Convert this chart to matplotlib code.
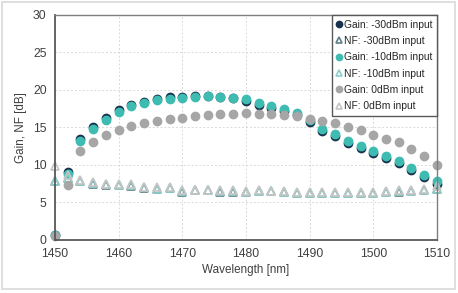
import numpy as np
import matplotlib
matplotlib.use("Agg")
import matplotlib.pyplot as plt
from matplotlib.patches import Rectangle

plt.rcParams["font.family"] = ["Liberation Sans", "DejaVu Sans"]

# longueurs d'onde (pas de 2 nm)
wavelength = list(range(1450, 1511, 2))

gain_m30 = [0.7, 9.0, 13.5, 15.1, 16.3, 17.3, 18.0, 18.4, 18.8, 19.0, 19.1,
            19.2, 19.2, 19.1, 18.9, 18.5, 18.0, 17.6, 17.2, 16.6, 15.7,
            14.5, 13.8, 12.9, 12.2, 11.6, 10.9, 10.2, 9.3, 8.4, 7.5]
gain_m10 = [0.7, 8.8, 13.2, 14.8, 16.0, 17.0, 17.8, 18.2, 18.6, 18.75, 18.9,
            19.1, 19.2, 19.1, 18.9, 18.75, 18.3, 17.9, 17.4, 16.9, 16.0,
            14.8, 14.1, 13.2, 12.5, 11.9, 11.2, 10.5, 9.6, 8.7, 7.8]
gain_0 = [0.5, 7.3, 11.8, 13.1, 14.0, 14.7, 15.2, 15.55, 15.9, 16.1, 16.3,
          16.5, 16.7, 16.75, 16.8, 16.9, 16.8, 16.75, 16.7, 16.5, 16.1,
          15.8, 15.6, 15.0, 14.6, 14.0, 13.4, 13.0, 12.1, 11.2, 10.0]
nf_m30 = [7.8, 8.2, 7.8, 7.5, 7.3, 7.3, 7.2, 6.9, 6.75, 6.9, 6.45,
          6.6, 6.6, 6.45, 6.45, 6.4, 6.5, 6.5, 6.4, 6.3, 6.2,
          6.3, 6.3, 6.2, 6.2, 6.3, 6.4, 6.4, 6.5, 6.6, 6.8]
nf_m10 = [7.9, 8.3, 7.9, 7.6, 7.4, 7.3, 7.3, 7.0, 6.8, 6.9, 6.5,
          6.6, 6.6, 6.5, 6.5, 6.4, 6.5, 6.5, 6.4, 6.3, 6.3,
          6.3, 6.3, 6.3, 6.3, 6.3, 6.4, 6.5, 6.5, 6.6, 6.8]
nf_0 = [9.8, 8.6, 8.0, 7.7, 7.5, 7.4, 7.4, 7.1, 7.0, 7.0, 6.6,
        6.7, 6.7, 6.6, 6.6, 6.5, 6.6, 6.5, 6.5, 6.4, 6.4,
        6.4, 6.4, 6.4, 6.4, 6.4, 6.5, 6.6, 6.6, 6.8, 7.2]

series = [
    (gain_m30, "Gain: -30dBm input", "o", "#17324f", "#17324f"),
    (nf_m30, "NF: -30dBm input", "^", "none", "#5d7f88"),
    (gain_m10, "Gain: -10dBm input", "o", "#3ebcb2", "#3ebcb2"),
    (nf_m10, "NF: -10dBm input", "^", "none", "#8fcfc9"),
    (gain_0, "Gain: 0dBm input", "o", "#a6a6a6", "#a6a6a6"),
    (nf_0, "NF: 0dBm input", "^", "none", "#c4c4c4"),
]

fig = plt.figure(figsize=(4.58, 2.93), dpi=100)
ax = fig.add_axes([0.120, 0.181, 0.834, 0.768])

for vals, label, marker, fc, ec in series:
    ax.plot(wavelength, vals, linestyle="none", marker=marker, markersize=5.8,
            markerfacecolor=fc, markeredgecolor=ec, markeredgewidth=1.2,
            label=label, clip_on=False)

ax.set_xlim(1450, 1510)
ax.set_ylim(0, 30)
ax.set_xticks(range(1450, 1511, 10))
ax.set_yticks(range(0, 31, 5))
ax.grid(True, linestyle=(0, (2, 2)), color="#d9d9d9", linewidth=0.7)
ax.set_axisbelow(True)
for side in ["top", "right"]:
    ax.spines[side].set_color("#7f7f7f")
    ax.spines[side].set_linewidth(1.0)
for side in ["left", "bottom"]:
    ax.spines[side].set_color("#595959")
    ax.spines[side].set_linewidth(1.3)
ax.tick_params(length=0, labelsize=8.8, colors="#404040", pad=6)
ax.set_xlabel("Wavelength [nm]", fontsize=8.4, color="#404040", labelpad=3)
ax.set_ylabel("Gain, NF [dB]", fontsize=8.4, color="#404040", labelpad=4)

leg = ax.legend(loc="upper right", borderaxespad=0, fontsize=7.4,
                handlelength=0.5, handletextpad=0.2, markerscale=0.75,
                labelspacing=0.62, borderpad=0.45, fancybox=False,
                framealpha=1)
leg.get_frame().set_edgecolor("#595959")
leg.get_frame().set_linewidth(1.0)
for t in leg.get_texts():
    t.set_color("#262626")

# bordure du graphique
fig.patches.append(Rectangle((0.004, 0.012), 0.99, 0.982, transform=fig.transFigure,
                             fill=False, edgecolor="#d9d9d9", linewidth=1.2))

fig.savefig("out.png", dpi=100)
